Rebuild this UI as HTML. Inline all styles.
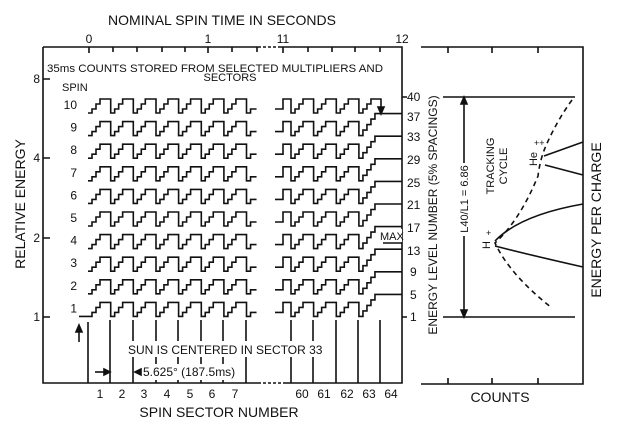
<!DOCTYPE html>
<html><head><meta charset="utf-8"><style>
html,body{margin:0;padding:0;background:#fff;}
svg{display:block;}
text{font-family:"Liberation Sans",sans-serif;fill:#111;}
</style></head><body>
<svg id="s" width="620" height="430" viewBox="0 0 620 430" xmlns="http://www.w3.org/2000/svg">
<g stroke="#111" stroke-width="1.6" fill="none" id="g">
<path d="M43 47 H258 M281 47 H402 V383 H283 M258 383 H43 V47"/>
<path d="M258 47 H281 M258 383 H283" stroke-dasharray="3 2"/>
<path d="M89 47v6M113 47v5M137 47v5M162 47v5M185 47v5M208 47v6M232 47v5M257 47v5M283 47v6M308 47v5M332 47v5M355 47v5M380 47v5"/>
<path d="M43 79h7M43 158h7M43 238h7M43 317h7"/>
<path d="M402 97h5M402 317h5"/>
<path d="M88 322V383M110 320V383M133 320V383M156 320V383M178 320V383M201 320V383M223 320V383M246 320V383M291 320V383M313 320V383M336 320V383M358 320V383M380 320V383"/>
<path d="M79 342V327"/>
<path d="M76 332 L79 325 L82 332 Z" fill="#111"/>
<path d="M95 372H108"/><path d="M104 369 L110 372 L104 375Z" fill="#111"/>
<path d="M135 372 L141 369 L141 375Z" fill="#111"/>
<path d="M421 47H583V384H421"/>
<path d="M448 47v6M492 47v6M538 47v6M448 384v-6M492 384v-6M538 384v-6"/>
<path d="M443 97H575M443 317H575"/>
<path d="M464 97V163M464 236V317"/>
<path d="M461 104L464 97L467 104Z M461 310L464 317L467 310Z" fill="#111"/>
<path d="M572 100 Q556 122 545 148 Q540 160 538 176 Q520 220 495 243 Q510 275 552 308" stroke-dasharray="5 4"/>
<path d="M495 241 Q520 215 583 204 M495 246 Q530 255 583 267 M544 156 L583 142 M545 165 L583 175"/>
<path d="M383 243H402"/>
</g>
<g id="w" stroke="#111" stroke-width="1.6" fill="none"></g>
<rect x="125" y="341" width="200" height="16" fill="#fff"/>
<rect x="142" y="364" width="103" height="16" fill="#fff"/>
<text x="222" y="25" font-size="14" text-anchor="middle">NOMINAL SPIN TIME IN SECONDS</text>
<text x="89" y="43" font-size="12" text-anchor="middle">0</text>
<text x="208" y="43" font-size="12" text-anchor="middle">1</text>
<text x="283" y="43" font-size="12" text-anchor="middle">11</text>
<text x="402" y="43" font-size="12" text-anchor="middle">12</text>
<text x="215" y="72" font-size="11" text-anchor="middle" textLength="336" lengthAdjust="spacingAndGlyphs">35ms COUNTS STORED FROM SELECTED MULTIPLIERS AND</text>
<text x="230" y="81" font-size="11" text-anchor="middle">SECTORS</text>
<text x="62" y="91" font-size="11">SPIN</text>
<text x="40" y="83" font-size="12" text-anchor="end">8</text>
<text x="40" y="162" font-size="12" text-anchor="end">4</text>
<text x="40" y="242" font-size="12" text-anchor="end">2</text>
<text x="40" y="321" font-size="12" text-anchor="end">1</text>
<text transform="translate(25,204) rotate(-90)" font-size="14" text-anchor="middle">RELATIVE ENERGY</text>
<g font-size="12">
<text x="407" y="101">40</text><text x="407" y="121">37</text><text x="407" y="141">33</text>
<text x="407" y="164">29</text><text x="407" y="187">25</text><text x="407" y="209">21</text>
<text x="407" y="232">17</text><text x="407" y="255">13</text><text x="410" y="276">9</text>
<text x="410" y="299">5</text><text x="410" y="321">1</text>
</g>
<rect x="380" y="229" width="22" height="13" fill="#fff"/>
<text x="380" y="240" font-size="11">MAX</text>
<text x="128" y="354" font-size="12">SUN IS CENTERED IN SECTOR  33</text>
<text x="143" y="376" font-size="12">5.625° (187.5ms)</text>
<g font-size="12" text-anchor="middle">
<text x="100" y="398">1</text><text x="122" y="398">2</text><text x="144" y="398">3</text>
<text x="167" y="398">4</text><text x="190" y="398">5</text><text x="212" y="398">6</text>
<text x="235" y="398">7</text><text x="302" y="398">60</text><text x="324" y="398">61</text>
<text x="347" y="398">62</text><text x="369" y="398">63</text><text x="391" y="398">64</text>
</g>
<text x="219" y="417" font-size="14" text-anchor="middle">SPIN SECTOR NUMBER</text>
<text transform="translate(437,215) rotate(-90)" font-size="12" text-anchor="middle">ENERGY LEVEL NUMBER (5% SPACINGS)</text>
<text transform="translate(468,199) rotate(-90)" font-size="11" text-anchor="middle">L40/L1 = 6.86</text>
<text transform="translate(494,166) rotate(-90)" font-size="11" text-anchor="middle">TRACKING</text>
<text transform="translate(507,166) rotate(-90)" font-size="11" text-anchor="middle">CYCLE</text>
<text transform="translate(490,245) rotate(-90)" font-size="11" text-anchor="middle">H</text>
<text x="486" y="236" font-size="9">+</text>
<text transform="translate(537,159) rotate(-90)" font-size="11" text-anchor="middle">He</text>
<text x="534" y="146" font-size="9">++</text>
<text transform="translate(601,220) rotate(-90)" font-size="14" text-anchor="middle">ENERGY PER CHARGE</text>
<text x="500" y="402" font-size="14" text-anchor="middle">COUNTS</text>
<script>
(function(){
var g=document.getElementById('w'),ns='http://www.w3.org/2000/svg',w=22.65;
for(var r=1;r<=10;r++){
 var L=113+(10-r)*22.6,d='';
 var num=document.createElementNS(ns,'text');num.setAttribute('x','77');num.setAttribute('y',(L-4).toFixed(1));
 num.setAttribute('font-size','12');num.setAttribute('text-anchor','end');num.textContent=r;
 document.getElementById('s').appendChild(num);
 if(r==1)d+='M79 '+L+' H88';else d+='M88 '+L;
 function sec(x0){return ' V'+L+' H'+(x0+4)+' V'+(L-4)+' H'+(x0+8)+' V'+(L-9)+' H'+(x0+12)+' V'+(L-14)+' H'+(x0+w).toFixed(1);}
 for(var k=0;k<7;k++){d+=sec(88+k*w);}
 var x7=88+7*w;d+=' V'+L+' H'+(x7+4)+' V'+(L-4)+' H'+(x7+10);
 d+=' M275 '+(L-4)+' H283 V'+(L-14)+' H291';
 for(k=0;k<3;k++){d+=sec(291+k*w);}
 var xf=291+3*w;
 if(r<10){d+=' V'+L+' H'+(xf+4)+' V'+(L-5.5)+' H'+(xf+8)+' V'+(L-11)+' H'+(xf+12)+' V'+(L-16.5)+' H'+(xf+16)+' V'+(L-22)+' H402';}
 else{d+=sec(xf);d+=' M381 '+(L-14)+' V'+(L-4);
  var a=document.createElementNS(ns,'path');a.setAttribute('d','M378 '+(L-6)+' L381 '+(L+1)+' L384 '+(L-6)+'Z');a.setAttribute('fill','#111');g.appendChild(a);}
 var p=document.createElementNS(ns,'path');p.setAttribute('d',d);g.appendChild(p);
}
})();
</script>
</svg>
</body></html>
